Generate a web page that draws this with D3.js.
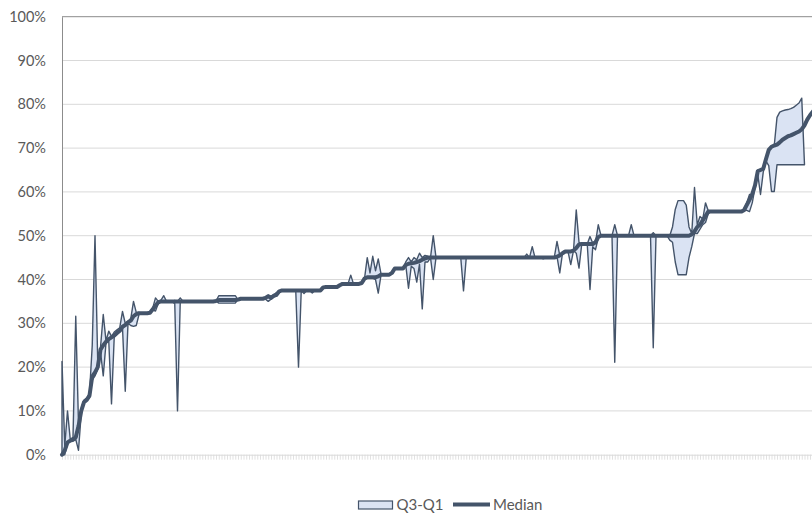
<!DOCTYPE html>
<html>
<head>
<meta charset="utf-8">
<script src="https://cdn.jsdelivr.net/npm/d3@7"></script>
<style>
  body { margin: 0; background: #ffffff; }
  svg { display: block; }
</style>
</head>
<body>
<svg id="chart" width="812" height="513"></svg>
<script>
// Median share per category (percent)
const median = [
  0, 1, 2.8, 3.2, 3.4, 4, 6.5, 10, 12, 12.5,
  13.5, 17.9, 18.8, 20, 24, 25, 25.8, 26.4, 26.8, 27.2,
  27.8, 28.3, 29.2, 29.6, 30.2, 30.6, 31.6, 32.1, 32.3, 32.3,
  32.3, 32.3, 32.4, 33.2, 34, 34.8, 35, 35, 35, 35,
  35, 35, 35, 35, 35, 35, 35, 35, 35, 35,
  35, 35, 35, 35, 35, 35, 35.1, 35.3, 35.3, 35.3,
  35.3, 35.3, 35.3, 35.3, 35.4, 35.6, 35.6, 35.6, 35.6, 35.6,
  35.6, 35.6, 35.6, 35.6, 35.8, 36.2, 35.8, 36.3, 36.5, 37.3,
  37.5, 37.5, 37.5, 37.5, 37.5, 37.5, 37.5, 37.5, 37.5, 37.5,
  37.5, 37.5, 37.5, 37.5, 37.5, 38.2, 38.3, 38.3, 38.3, 38.3,
  38.3, 38.7, 39, 39, 39, 39, 39, 39, 39, 39.2,
  40.2, 40.5, 40.5, 40.5, 40.5, 40.7, 41.1, 41.1, 41.1, 41.1,
  41.5, 42.5, 42.5, 42.5, 42.5, 43.3, 43.6, 43.7, 43.8, 44,
  44.2, 44.5, 44.8, 45, 45, 45, 45, 45, 45, 45,
  45, 45, 45, 45, 45, 45, 45, 45, 45, 45,
  45, 45, 45, 45, 45, 45, 45, 45, 45, 45,
  45, 45, 45, 45, 45, 45, 45, 45, 45, 45,
  45, 45, 45, 45, 45, 45, 45, 45, 45, 45,
  45.2, 45.5, 46, 46.4, 46.4, 46.4, 46.6, 47.2, 48, 48.1,
  48.1, 48.1, 48.1, 48.1, 48.5, 49.7, 50, 50, 50, 50,
  50, 50, 50, 50, 50, 50, 50, 50, 50, 50,
  50, 50, 50, 50, 50, 50, 50, 50, 50, 50,
  50, 50, 50, 50, 50, 50, 50, 50, 50, 50.3,
  51, 52, 52.5, 53.5, 54.5, 55.5, 55.5, 55.5, 55.5, 55.5,
  55.5, 55.5, 55.5, 55.5, 55.5, 55.5, 55.5, 55.5, 55.8, 57,
  58.2, 59.5, 61.5, 64.7, 65, 65.3, 67.5, 69.6, 70.3, 70.6,
  70.8, 71.3, 71.9, 72.3, 72.7, 72.9, 73.2, 73.5, 73.8, 74.3,
  75.2, 76.5, 77.5, 78.3, 79
];

// Third quartile per category (percent); null where no quartile band
const q3 = [
  21.3, 2, 10, 3.5, 4, 31.6, 7, 10.5, 12.5, 13,
  14, 25, 50, 21, 24.5, 32, 26, 28.2, 27, 28,
  28.5, 29, 32.7, 30, 30.5, 31, 35, 32.5, 32.5, 32.3,
  32.3, 32.3, 32.4, 33.5, 35.8, 35, 35.3, 36.3, 35, 35,
  35, 35.2, 35, 35.8, 35, 35, 35, 35, 35, 35,
  35, 35, 35, 35, 35, 35, 35.1, 36.3, 36.3, 36.3,
  36.3, 36.3, 36.3, 36.3, 35.4, 35.6, 35.6, 35.6, 35.6, 35.6,
  35.6, 35.6, 35.6, 35.6, 36, 36.3, 36.2, 36.5, 37, 37.3,
  37.5, 37.5, 37.5, 37.5, 37.5, 37.5, 37.5, 37.5, 37.5, 37.5,
  37.5, 37.5, 37.5, 37.5, 37.5, 38.2, 38.3, 38.3, 38.3, 38.3,
  38.3, 38.7, 39, 39, 39, 41, 39, 39, 39, 39.2,
  40.2, 45, 41.5, 45.3, 42, 44.7, 41.3, 41.1, 41.1, 41.1,
  41.5, 42.5, 42.5, 42.5, 42.5, 44, 45, 44, 45, 44.5,
  46, 45, 45.5, 45.3, 45, 50, 45, 45, 45, 45,
  45, 45, 45, 45, 45, 45, 45, 45, 45, 45,
  45, 45, 45, 45, 45, 45, 45, 45, 45, 45,
  45, 45, 45, 45, 45, 45, 45, 45, 45, 45.8,
  45, 47.5, 45, 45, 45, 45, 45, 45, 45, 45,
  48.7, 45.5, 46, 46.4, 46.4, 46.4, 46.6, 55.9, 48.5, 48.1,
  48.1, 48.1, 49.8, 48.3, 48.5, 52.5, 50, 50, 50, 50,
  50, 52.5, 50, 50, 50, 50, 50, 52.5, 50, 50,
  50, 50, 50, 50, 50, 50.7, 50, 50, 50, 50,
  50, 50, 52, 56, 58, 58, 58, 57, 52, 50.5,
  61, 52.5, 54.4, 53.8, 57.5, 55.7, 55.5, 55.5, 55.5, 55.5,
  55.5, 55.5, 55.5, 55.5, 55.5, 55.5, 55.5, 55.5, 55.8, 57.5,
  59.4, 59.5, 61.5, 65, 65, 65.5, 67.5, 69.6, 70.5, 70.6,
  77, 78.2, 78.5, 78.7, 78.8, 79, 79.3, 79.8, 80.3, 81.4,
  66.2, null, null, null, null
];

// First quartile per category (percent); null where no quartile band
const q1 = [
  0, 0, 2.5, 3, 3.2, 3.5, 1, 9.5, 12, 12.5,
  13, 17, 18, 19.5, 23.5, 18, 25.5, 26, 11.6, 27,
  27.5, 28, 29, 14.5, 30, 29.5, 29.3, 29.5, 32, 32.3,
  32.3, 32.3, 32.4, 33, 32.8, 34.5, 35, 35, 35, 35,
  35, 34.5, 10, 35, 35, 35, 35, 35, 35, 35,
  35, 35, 35, 35, 35, 35, 35.1, 34.6, 34.6, 34.6,
  34.6, 34.6, 34.6, 34.6, 35.4, 35.6, 35.6, 35.6, 35.6, 35.6,
  35.6, 35.6, 35.6, 35.6, 35.5, 35, 35.5, 36, 36.2, 37.3,
  37.5, 37.5, 37.5, 37.5, 37.5, 37.5, 20, 37.5, 36.8, 37.5,
  37.5, 36.9, 37.5, 37.5, 37.5, 38.2, 38.3, 38.3, 38.3, 38.3,
  38.3, 38.7, 39, 39, 39, 39, 39, 39, 39, 39.2,
  40.2, 40.3, 40.3, 40.3, 40, 36.9, 41, 41.1, 41.1, 41.1,
  41.5, 42.5, 42.5, 42.5, 42.5, 43.3, 38, 43, 42.5, 39.4,
  43.5, 33.3, 44, 44, 45, 40, 45, 45, 45, 45,
  45, 45, 45, 45, 45, 45, 37.4, 45, 45, 45,
  45, 45, 45, 45, 45, 45, 45, 45, 45, 45,
  45, 45, 45, 45, 45, 45, 45, 45, 45, 45,
  45, 45, 45, 45, 45, 44.7, 45, 45, 45, 45,
  45.2, 41.5, 46, 46.4, 46.4, 43.4, 46.6, 46, 42.6, 48.1,
  48.1, 48.1, 37.7, 47.5, 46.8, 49.5, 50, 50, 50, 50,
  50, 21.1, 50, 50, 50, 50, 50, 50, 50, 50,
  50, 50, 50, 50, 50, 24.4, 50, 50, 50, 50,
  50, 49, 48.5, 44, 41.1, 41.1, 41.1, 41.1, 45, 47.5,
  50.5, 50.5, 51.5, 52.5, 53, 55, 55.5, 55.5, 55.5, 55.5,
  55.5, 55.5, 55.5, 55.5, 55.5, 55.5, 55.5, 55.5, 55.8, 55.8,
  55.5, 57.5, 61, 64, 59.4, 64.5, 67, 66, 60.1, 60.1,
  66.2, 66.2, 66.2, 66.2, 66.2, 66.2, 66.2, 66.2, 66.2, 66.2,
  66.2, null, null, null, null
];

const yTicks = [0, 10, 20, 30, 40, 50, 60, 70, 80, 90, 100];
const legendNames = ["Q3-Q1", "Median"];

const dark = "#44546a";
const bandFill = "#dae3f3";
const gridColor = "#d9d9d9";
const textColor = "#595959";
const fontFamily = "Lato, 'Open Sans', sans-serif";

const svg = d3.select("#chart");
const plotLeft = 62, plotRight = 812, plotTop = 16.7, plotBottom = 454.7;
const step = 2.75;
const idx = d3.range(median.length);

const x = d3.scaleLinear()
  .domain([0, median.length - 1])
  .range([plotLeft, plotLeft + step * (median.length - 1)]);
const y = d3.scaleLinear().domain([0, 100]).range([plotBottom, plotTop]);

// horizontal gridlines
svg.append("g").selectAll("line")
  .data(yTicks.filter(t => t > 0 && t < 100))
  .join("line")
  .attr("x1", plotLeft).attr("x2", plotRight)
  .attr("y1", d => y(d)).attr("y2", d => y(d))
  .attr("stroke", gridColor).attr("stroke-width", 1);

// top border line at 100%
svg.append("line")
  .attr("x1", plotLeft).attr("x2", plotRight)
  .attr("y1", y(100)).attr("y2", y(100))
  .attr("stroke", "#8c8c8c").attr("stroke-width", 1);

// category axis with a tick at every category
const xAxis = d3.axisBottom(x)
  .tickValues(idx)
  .tickSize(5)
  .tickFormat("");
const gx = svg.append("g")
  .attr("transform", `translate(0,${plotBottom})`)
  .call(xAxis);
gx.select(".domain").attr("stroke", gridColor).attr("d", `M${plotLeft},0.5H${plotRight + 20}`);
gx.selectAll(".tick line").attr("stroke", gridColor).attr("stroke-width", 0.8);

// value axis
const yAxis = d3.axisLeft(y)
  .tickValues(yTicks)
  .tickSize(0)
  .tickPadding(16)
  .tickFormat(d => d + "%");
const gy = svg.append("g")
  .attr("transform", `translate(${plotLeft},0)`)
  .call(yAxis);
gy.select(".domain").attr("stroke", "#8c8c8c").attr("stroke-width", 1);
gy.selectAll(".tick text")
  .attr("fill", textColor)
  .attr("font-family", fontFamily)
  .attr("font-size", "14.5px");

// interquartile band
const band = d3.area()
  .defined(i => q1[i] !== null && q3[i] !== null)
  .x(i => x(i))
  .y0(i => y(q1[i]))
  .y1(i => y(q3[i]));
svg.append("path")
  .datum(idx)
  .attr("d", band)
  .attr("fill", bandFill)
  .attr("stroke", dark)
  .attr("stroke-width", 1.4)
  .attr("stroke-linejoin", "round");

// median line
const medLine = d3.line()
  .x(i => x(i))
  .y(i => y(median[i]));
svg.append("path")
  .datum(idx)
  .attr("d", medLine)
  .attr("fill", "none")
  .attr("stroke", dark)
  .attr("stroke-width", 4)
  .attr("stroke-linejoin", "round")
  .attr("stroke-linecap", "round");

// legend
const lg = svg.append("g");
lg.append("rect")
  .attr("x", 358.5).attr("y", 501).attr("width", 34).attr("height", 8)
  .attr("fill", bandFill).attr("stroke", dark).attr("stroke-width", 1.2);
lg.append("text")
  .attr("x", 396.5).attr("y", 505).attr("dy", "0.35em")
  .attr("fill", textColor).attr("font-family", fontFamily).attr("font-size", "15px")
  .text(legendNames[0]);
lg.append("line")
  .attr("x1", 453).attr("x2", 490).attr("y1", 504.5).attr("y2", 504.5)
  .attr("stroke", dark).attr("stroke-width", 4);
lg.append("text")
  .attr("x", 493).attr("y", 505).attr("dy", "0.35em")
  .attr("fill", textColor).attr("font-family", fontFamily).attr("font-size", "15px")
  .text(legendNames[1]);
</script>
</body>
</html>
